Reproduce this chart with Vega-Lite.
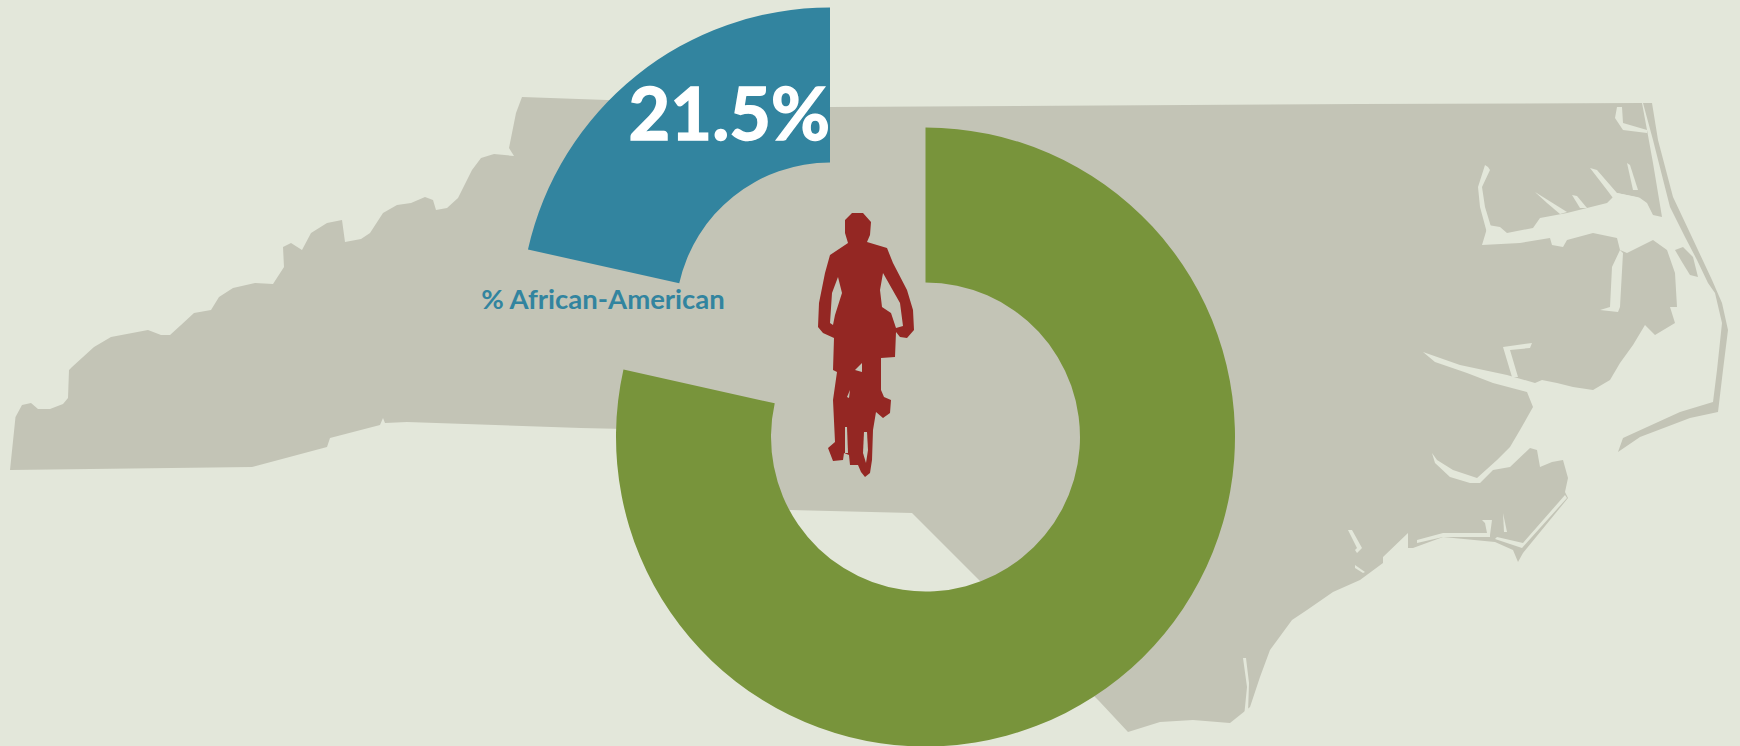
{"$schema":"https://vega.github.io/schema/vega-lite/v6.json","width":1740,"height":746,"autosize":{"type":"none"},"padding":0,"background":"#E3E7DA","view":{"stroke":null},
"datasets":{
"land":[
{"part":"main","x":10,"y":470},{"part":"main","x":15.5,"y":417},{"part":"main","x":22,"y":405},{"part":"main","x":31,"y":403},{"part":"main","x":38,"y":409},{"part":"main","x":50,"y":409},{"part":"main","x":63,"y":404},{"part":"main","x":68,"y":398},{"part":"main","x":69,"y":370},{"part":"main","x":72,"y":367},{"part":"main","x":94,"y":347},{"part":"main","x":111,"y":337},{"part":"main","x":148,"y":330},{"part":"main","x":161,"y":335},{"part":"main","x":170,"y":335},{"part":"main","x":181,"y":325},{"part":"main","x":194,"y":313},{"part":"main","x":211,"y":310},{"part":"main","x":219,"y":297},{"part":"main","x":233,"y":288},{"part":"main","x":255,"y":283},{"part":"main","x":273,"y":284},{"part":"main","x":284,"y":267},{"part":"main","x":283,"y":247},{"part":"main","x":291,"y":243},{"part":"main","x":302,"y":250},{"part":"main","x":311,"y":233},{"part":"main","x":327,"y":223},{"part":"main","x":342,"y":220},{"part":"main","x":345,"y":242},{"part":"main","x":361,"y":239},{"part":"main","x":370,"y":233},{"part":"main","x":383,"y":213},{"part":"main","x":397,"y":205},{"part":"main","x":411,"y":203},{"part":"main","x":425,"y":197},{"part":"main","x":433,"y":200},{"part":"main","x":436,"y":210},{"part":"main","x":447,"y":208},{"part":"main","x":458,"y":198},{"part":"main","x":472,"y":170},{"part":"main","x":481,"y":158},{"part":"main","x":494,"y":154},{"part":"main","x":514,"y":156},{"part":"main","x":509,"y":148},{"part":"main","x":516,"y":113},{"part":"main","x":522,"y":97},{"part":"main","x":607,"y":100},{"part":"main","x":830,"y":107},{"part":"main","x":1360,"y":104},{"part":"main","x":1642,"y":103},{"part":"main","x":1647,"y":130},{"part":"main","x":1653,"y":163},{"part":"main","x":1662,"y":217},{"part":"main","x":1653,"y":215},{"part":"main","x":1647,"y":203},{"part":"main","x":1640,"y":198},{"part":"main","x":1617,"y":193},{"part":"main","x":1607,"y":203},{"part":"main","x":1587,"y":208},{"part":"main","x":1567,"y":213},{"part":"main","x":1540,"y":218},{"part":"main","x":1533,"y":228},{"part":"main","x":1507,"y":233},{"part":"main","x":1500,"y":227},{"part":"main","x":1488,"y":225},{"part":"main","x":1482,"y":245},{"part":"main","x":1520,"y":243},{"part":"main","x":1550,"y":238},{"part":"main","x":1552,"y":245},{"part":"main","x":1563,"y":247},{"part":"main","x":1567,"y":240},{"part":"main","x":1593,"y":233},{"part":"main","x":1617,"y":238},{"part":"main","x":1620,"y":250},{"part":"main","x":1627,"y":253},{"part":"main","x":1653,"y":240},{"part":"main","x":1667,"y":250},{"part":"main","x":1675,"y":273},{"part":"main","x":1677,"y":307},{"part":"main","x":1670,"y":307},{"part":"main","x":1675,"y":323},{"part":"main","x":1655,"y":335},{"part":"main","x":1645,"y":325},{"part":"main","x":1633,"y":345},{"part":"main","x":1620,"y":363},{"part":"main","x":1610,"y":380},{"part":"main","x":1593,"y":390},{"part":"main","x":1573,"y":387},{"part":"main","x":1557,"y":383},{"part":"main","x":1542,"y":380},{"part":"main","x":1535,"y":383},{"part":"main","x":1507,"y":375},{"part":"main","x":1460,"y":365},{"part":"main","x":1423,"y":352},{"part":"main","x":1435,"y":362},{"part":"main","x":1467,"y":373},{"part":"main","x":1493,"y":383},{"part":"main","x":1527,"y":392},{"part":"main","x":1533,"y":407},{"part":"main","x":1520,"y":430},{"part":"main","x":1510,"y":447},{"part":"main","x":1497,"y":460},{"part":"main","x":1477,"y":478},{"part":"main","x":1453,"y":470},{"part":"main","x":1437,"y":460},{"part":"main","x":1432,"y":453},{"part":"main","x":1435,"y":463},{"part":"main","x":1450,"y":477},{"part":"main","x":1470,"y":483},{"part":"main","x":1480,"y":483},{"part":"main","x":1493,"y":470},{"part":"main","x":1510,"y":467},{"part":"main","x":1530,"y":448},{"part":"main","x":1537,"y":450},{"part":"main","x":1540,"y":467},{"part":"main","x":1552,"y":462},{"part":"main","x":1563,"y":460},{"part":"main","x":1568,"y":478},{"part":"main","x":1565,"y":492},{"part":"main","x":1568,"y":498},{"part":"main","x":1523,"y":553},{"part":"main","x":1518,"y":562},{"part":"main","x":1513,"y":550},{"part":"main","x":1495,"y":542},{"part":"main","x":1443,"y":537},{"part":"main","x":1413,"y":548},{"part":"main","x":1408,"y":548},{"part":"main","x":1408,"y":533},{"part":"main","x":1383,"y":557},{"part":"main","x":1383,"y":563},{"part":"main","x":1360,"y":580},{"part":"main","x":1333,"y":592},{"part":"main","x":1307,"y":610},{"part":"main","x":1292,"y":620},{"part":"main","x":1270,"y":650},{"part":"main","x":1260,"y":677},{"part":"main","x":1250,"y":707},{"part":"main","x":1230,"y":723},{"part":"main","x":1193,"y":720},{"part":"main","x":1160,"y":722},{"part":"main","x":1128,"y":732},{"part":"main","x":1100,"y":702},{"part":"main","x":980,"y":581},{"part":"main","x":912,"y":513},{"part":"main","x":790,"y":510},{"part":"main","x":770,"y":508},{"part":"main","x":625,"y":429},{"part":"main","x":581,"y":428},{"part":"main","x":407,"y":422},{"part":"main","x":385,"y":423},{"part":"main","x":383,"y":418},{"part":"main","x":380,"y":425},{"part":"main","x":330,"y":438},{"part":"main","x":327,"y":447},{"part":"main","x":252,"y":467},
{"part":"banks","x":1643,"y":103},{"part":"banks","x":1652,"y":103},{"part":"banks","x":1658,"y":140},{"part":"banks","x":1673,"y":197},{"part":"banks","x":1690,"y":233},{"part":"banks","x":1712,"y":280},{"part":"banks","x":1722,"y":303},{"part":"banks","x":1728,"y":330},{"part":"banks","x":1723,"y":370},{"part":"banks","x":1718,"y":412},{"part":"banks","x":1690,"y":418},{"part":"banks","x":1640,"y":437},{"part":"banks","x":1618,"y":452},{"part":"banks","x":1623,"y":438},{"part":"banks","x":1680,"y":412},{"part":"banks","x":1713,"y":402},{"part":"banks","x":1717,"y":370},{"part":"banks","x":1722,"y":323},{"part":"banks","x":1715,"y":293},{"part":"banks","x":1708,"y":283},{"part":"banks","x":1697,"y":260},{"part":"banks","x":1685,"y":237},{"part":"banks","x":1670,"y":207},{"part":"banks","x":1653,"y":140},
{"part":"island","x":1675,"y":250},{"part":"island","x":1683,"y":247},{"part":"island","x":1693,"y":257},{"part":"island","x":1698,"y":277},{"part":"island","x":1690,"y":275},{"part":"island","x":1682,"y":262}
],
"water":[
{"part":"chowan","x":1488,"y":167},{"part":"chowan","x":1485,"y":165},{"part":"chowan","x":1478,"y":187},{"part":"chowan","x":1480,"y":207},{"part":"chowan","x":1487,"y":233},{"part":"chowan","x":1492,"y":230},{"part":"chowan","x":1485,"y":207},{"part":"chowan","x":1482,"y":187},{"part":"chowan","x":1490,"y":170},
{"part":"a","x":1590,"y":168},{"part":"a","x":1597,"y":170},{"part":"a","x":1617,"y":193},{"part":"a","x":1637,"y":197},{"part":"a","x":1640,"y":198},{"part":"a","x":1613,"y":198},{"part":"a","x":1607,"y":190},
{"part":"b","x":1535,"y":192},{"part":"b","x":1567,"y":212},{"part":"b","x":1560,"y":214},{"part":"b","x":1547,"y":203},
{"part":"c","x":1572,"y":195},{"part":"c","x":1577,"y":196},{"part":"c","x":1587,"y":208},{"part":"c","x":1580,"y":208},
{"part":"d","x":1627,"y":163},{"part":"d","x":1630,"y":165},{"part":"d","x":1638,"y":190},{"part":"d","x":1633,"y":190},
{"part":"top","x":1617,"y":107},{"part":"top","x":1622,"y":107},{"part":"top","x":1623,"y":123},{"part":"top","x":1647,"y":130},{"part":"top","x":1647,"y":133},{"part":"top","x":1623,"y":130},{"part":"top","x":1615,"y":118},
{"part":"alligator","x":1620,"y":250},{"part":"alligator","x":1623,"y":253},{"part":"alligator","x":1620,"y":307},{"part":"alligator","x":1618,"y":312},{"part":"alligator","x":1600,"y":310},{"part":"alligator","x":1610,"y":307},{"part":"alligator","x":1612,"y":267},
{"part":"pungo","x":1503,"y":347},{"part":"pungo","x":1532,"y":343},{"part":"pungo","x":1530,"y":348},{"part":"pungo","x":1510,"y":350},{"part":"pungo","x":1518,"y":377},{"part":"pungo","x":1512,"y":377},
{"part":"lookout","x":1565,"y":495},{"part":"lookout","x":1523,"y":543},{"part":"lookout","x":1497,"y":537},{"part":"lookout","x":1495,"y":539},{"part":"lookout","x":1522,"y":548},{"part":"lookout","x":1567,"y":498},
{"part":"core","x":1417,"y":540},{"part":"core","x":1443,"y":533},{"part":"core","x":1490,"y":533},{"part":"core","x":1490,"y":537},{"part":"core","x":1443,"y":537},{"part":"core","x":1417,"y":543},
{"part":"fear","x":1243,"y":658},{"part":"fear","x":1247,"y":687},{"part":"fear","x":1244,"y":717},{"part":"fear","x":1248,"y":713},{"part":"fear","x":1249,"y":683},{"part":"fear","x":1246,"y":658},
{"part":"e","x":1348,"y":530},{"part":"e","x":1352,"y":530},{"part":"e","x":1362,"y":548},{"part":"e","x":1357,"y":553},{"part":"e","x":1355,"y":550},{"part":"e","x":1357,"y":548},
{"part":"f","x":1355,"y":565},{"part":"f","x":1365,"y":572},{"part":"f","x":1363,"y":573},{"part":"f","x":1355,"y":568},
{"part":"g","x":1482,"y":520},{"part":"g","x":1492,"y":520},{"part":"g","x":1490,"y":535},{"part":"g","x":1487,"y":533},{"part":"g","x":1485,"y":523},
{"part":"h","x":1503,"y":513},{"part":"h","x":1507,"y":532},{"part":"h","x":1504,"y":532}
],
"rider":[
{"part":"r","x":845,"y":220},{"part":"r","x":852,"y":213},{"part":"r","x":863,"y":213},{"part":"r","x":871,"y":222},{"part":"r","x":870,"y":235},{"part":"r","x":867,"y":242},{"part":"r","x":887,"y":248},{"part":"r","x":893,"y":263},{"part":"r","x":907,"y":290},{"part":"r","x":913,"y":310},{"part":"r","x":914,"y":330},{"part":"r","x":907,"y":338},{"part":"r","x":900,"y":337},{"part":"r","x":896,"y":332},{"part":"r","x":895,"y":357},{"part":"r","x":881,"y":358},{"part":"r","x":881,"y":390},{"part":"r","x":884,"y":397},{"part":"r","x":891,"y":400},{"part":"r","x":890,"y":413},{"part":"r","x":883,"y":418},{"part":"r","x":876,"y":412},{"part":"r","x":873,"y":430},{"part":"r","x":872,"y":460},{"part":"r","x":870,"y":473},{"part":"r","x":865,"y":477},{"part":"r","x":861,"y":472},{"part":"r","x":858,"y":465},{"part":"r","x":850,"y":465},{"part":"r","x":849,"y":455},{"part":"r","x":844,"y":453},{"part":"r","x":843,"y":460},{"part":"r","x":833,"y":461},{"part":"r","x":828,"y":448},{"part":"r","x":835,"y":442},{"part":"r","x":833,"y":400},{"part":"r","x":837,"y":372},{"part":"r","x":833,"y":370},{"part":"r","x":834,"y":338},{"part":"r","x":823,"y":333},{"part":"r","x":818,"y":327},{"part":"r","x":819,"y":303},{"part":"r","x":825,"y":273},{"part":"r","x":830,"y":255},{"part":"r","x":848,"y":243},{"part":"r","x":845,"y":233}
],
"gaps":[
{"part":"l","x":838,"y":277},{"part":"l","x":842,"y":293},{"part":"l","x":835,"y":315},{"part":"l","x":833,"y":325},{"part":"l","x":830,"y":323},{"part":"l","x":832,"y":293},
{"part":"m","x":883,"y":273},{"part":"m","x":900,"y":303},{"part":"m","x":903,"y":326},{"part":"m","x":896,"y":328},{"part":"m","x":891,"y":313},{"part":"m","x":882,"y":307},{"part":"m","x":880,"y":290},
{"part":"n","x":864,"y":432},{"part":"n","x":867,"y":432},{"part":"n","x":868,"y":450},{"part":"n","x":866,"y":463},{"part":"n","x":863,"y":453},
{"part":"o","x":845,"y":427},{"part":"o","x":847,"y":427},{"part":"o","x":848,"y":453},{"part":"o","x":845,"y":453},
{"part":"p","x":855,"y":370},{"part":"p","x":862,"y":363},{"part":"p","x":862,"y":372},
{"part":"q","x":847,"y":397},{"part":"q","x":850,"y":390},{"part":"q","x":849,"y":398}
]
},
"layer":[
{"data":{"name":"land"},"mark":{"type":"line","fill":"#C3C4B6","strokeWidth":0},"encoding":{"x":{"field":"x","type":"quantitative","scale":{"domain":[0,1740],"nice":false},"axis":null},"y":{"field":"y","type":"quantitative","scale":{"domain":[746,0],"nice":false},"axis":null},"detail":{"field":"part"},"order":{"value":null}}},
{"data":{"name":"water"},"mark":{"type":"line","fill":"#E3E7DA","strokeWidth":0},"encoding":{"x":{"field":"x","type":"quantitative"},"y":{"field":"y","type":"quantitative"},"detail":{"field":"part"},"order":{"value":null}}},
{"data":{"values":[{"group":"% African-American","start":0.785,"end":1,"cx":830,"cy":317},{"group":"Other","start":0,"end":0.785,"cx":925.5,"cy":437}]},"mark":{"type":"arc","outerRadius":309.5,"innerRadius":154.5},"encoding":{"x":{"field":"cx","type":"quantitative"},"y":{"field":"cy","type":"quantitative"},"theta":{"field":"start","type":"quantitative","stack":null,"scale":{"domain":[0,1],"range":[0,6.283185307]}},"theta2":{"field":"end"},"fill":{"field":"group","type":"nominal","legend":null,"scale":{"domain":["% African-American","Other"],"range":["#32849F","#78943B"]}}}},
{"data":{"name":"rider"},"mark":{"type":"line","fill":"#942723","strokeWidth":0},"encoding":{"x":{"field":"x","type":"quantitative"},"y":{"field":"y","type":"quantitative"},"detail":{"field":"part"},"order":{"value":null}}},
{"data":{"name":"gaps"},"mark":{"type":"line","fill":"#C3C4B6","strokeWidth":0},"encoding":{"x":{"field":"x","type":"quantitative"},"y":{"field":"y","type":"quantitative"},"detail":{"field":"part"},"order":{"value":null}}},
{"data":{"values":[{"label":"21.5%","x":830,"y":140}]},"mark":{"type":"text","font":"Lato","fontWeight":"bold","fontSize":72,"align":"right","baseline":"alphabetic","fill":"#FFFFFF","stroke":"#FFFFFF","strokeWidth":1.5},"encoding":{"x":{"field":"x","type":"quantitative"},"y":{"field":"y","type":"quantitative"},"text":{"field":"label"}}},
{"data":{"values":[{"label":"% African-American","x":603,"y":309}]},"mark":{"type":"text","font":"Lato","fontWeight":"bold","fontSize":27.5,"align":"center","baseline":"alphabetic","fill":"#32849F"},"encoding":{"x":{"field":"x","type":"quantitative"},"y":{"field":"y","type":"quantitative"},"text":{"field":"label"}}}
]}
